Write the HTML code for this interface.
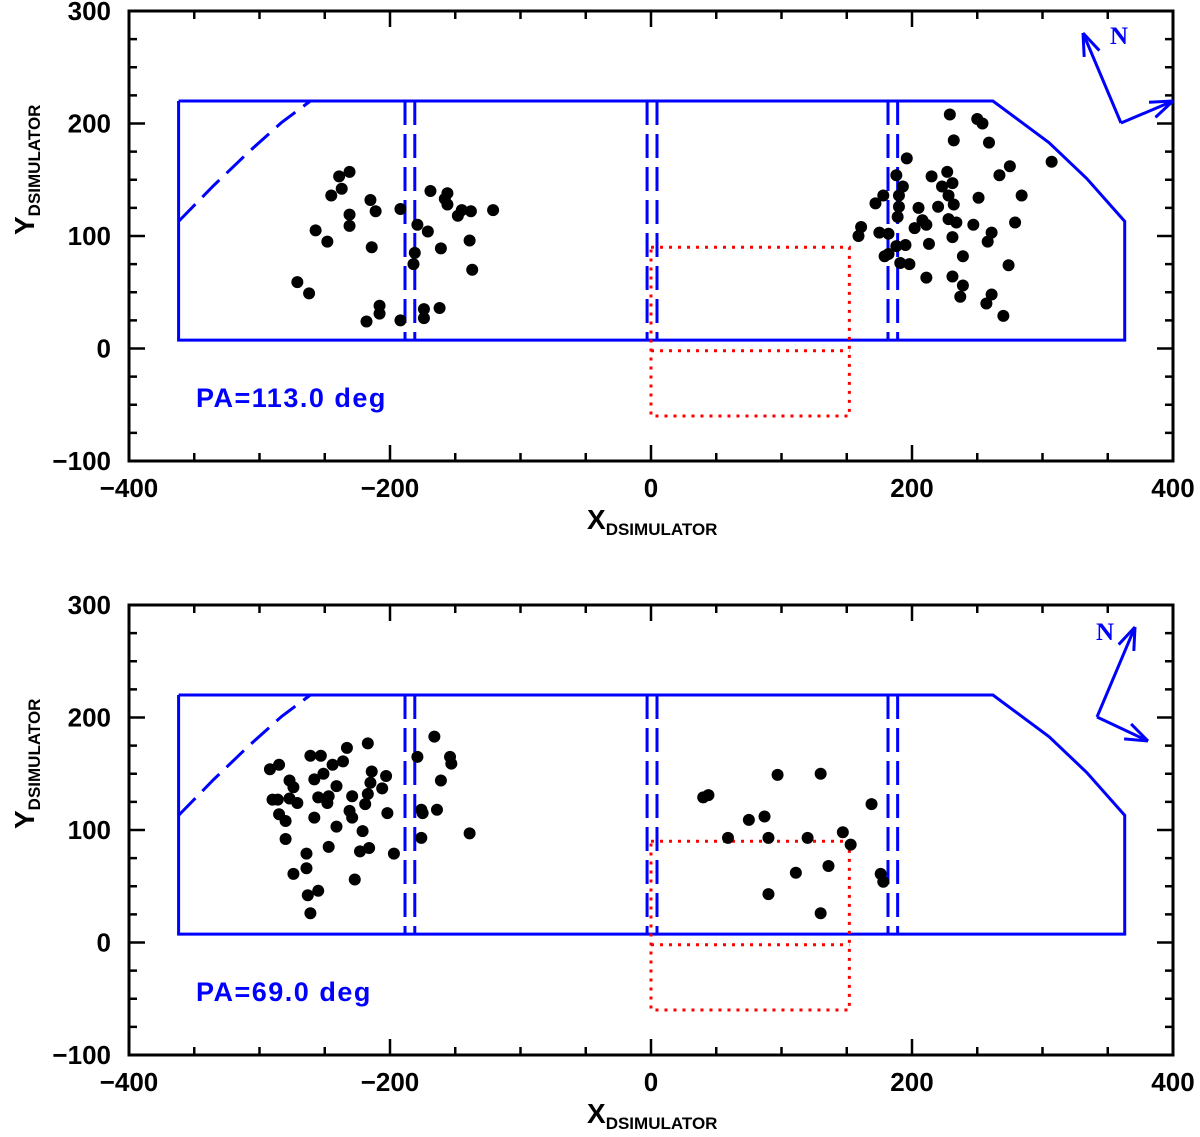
<!DOCTYPE html>
<html><head><meta charset="utf-8"><style>
body{margin:0;background:#fff;}
svg{display:block;font-family:"Liberation Sans",sans-serif;}
</style></head><body>
<svg id="chart" width="1200" height="1137" viewBox="0 0 1200 1137" xmlns="http://www.w3.org/2000/svg"></svg>
<script>
const xTicks=[-400,-200,0,200,400];
const yTicks=[-100,0,100,200,300];
const topPA="PA=113.0 deg";
const botPA="PA=69.0 deg";
const topX=[229,250,254,232,259,307,196,275,267,188,215,227,231,223,193,178,172,190,228,251,284,232,220,190,205,189,208,228,234,211,202,247,279,161,159,175,182,231,261,258,188,195,213,182,179,239,191,198,274,211,231,239,237,261,257,270,
-231,-239,-237,-245,-257,-248,-231,-231,-215,-211,-214,-271,-262,-208,-208,-218,-192,-174,-174,-162,-192,-179,-182,-169,-156,-158,-156,-148,-145,-138,-121,-171,-161,-139,-137,-181];
const topY=[208,204,200,185,183,166,169,162,154,154,153,157,147,144,144,136,129,136,136,134,136,128,126,126,125,117,114,115,112,110,107,110,112,108,100,103,102,99,103,95,91,92,93,84,82,82,76,75,74,63,64,56,46,48,40,29,
157,153,142,136,105,95,119,109,132,122,90,59,49,38,31,24,25,35,27,36,124,110,75,140,138,133,128,118,123,122,123,104,89,96,70,85];
const botX=[40,44,75,59,87,97,130,120,90,111,147,153,136,169,176,178,90,130,
-217,-233,-261,-253,-244,-236,-292,-285,-277,-274,-258,-251,-241,-214,-215,-203,-206,-217,-219,-229,-247,-248,-255,-290,-286,-277,-271,-285,-280,-258,-231,-229,-202,-241,-221,-280,-247,-223,-216,-197,-264,-264,-274,-227,-255,-263,-261,-179,-166,-154,-153,-161,-176,-175,-164,-176,-139];
const botY=[129,131,109,93,112,149,150,93,93,62,98,87,68,123,61,54,43,26,
177,173,166,166,158,161,154,158,144,138,145,150,139,152,142,148,137,132,123,130,130,124,129,127,127,128,124,114,108,111,117,111,115,103,99,92,85,81,84,79,79,66,61,56,46,42,26,165,183,165,159,144,118,115,118,93,97];
const slitX=[-362,262,305,334,363,363,-362,-362];
const slitY=[220,220,183,151,113,7.5,7.5,220];
const arcX=[-362,-335,-308,-283,-261];
const arcY=[113,145,175,201,220];
const slitLines=[-188.5,-181,-3,4.6,181.6,189];
const redX=[0,152];
const redY=[90,-2,-60];

const NS="http://www.w3.org/2000/svg";
const svg=document.getElementById('chart');
function el(t,a,p){const e=document.createElementNS(NS,t);for(const k in a)e.setAttribute(k,a[k]);(p||svg).appendChild(e);return e;}
const L=129,R=1173;
function sx(v){return L+(v+400)*(R-L)/800;}

function panel(top,name,X,Y,pa,compass){
  const B=top+450;
  const sy=v=>B-(v+100)*450/400;
  const g=el('g',{});
  
  
  let d=slitX.map((x,i)=>(i?'L':'M')+sx(x)+' '+sy(slitY[i])).join(' ');
  const s=el('path',{d:d,fill:'none',stroke:'#0000ff','stroke-width':3},g);
  
  
  d=arcX.map((x,i)=>(i?'L':'M')+sx(x)+' '+sy(arcY[i])).join(' ');
  const a=el('path',{d:d,fill:'none',stroke:'#0000ff','stroke-width':3,'stroke-dasharray':'24,10'},g);
  
  
  slitLines.forEach(x=>{
    const l=el('line',{x1:sx(x),x2:sx(x),y1:sy(220),y2:sy(7.5),stroke:'#0000ff','stroke-width':3,'stroke-dasharray':'24,9'},g);
    
    
  });
  d=`M${sx(redX[0])} ${sy(redY[0])} L${sx(redX[1])} ${sy(redY[0])} L${sx(redX[1])} ${sy(redY[2])} L${sx(redX[0])} ${sy(redY[2])} Z M${sx(redX[0])} ${sy(redY[1])} L${sx(redX[1])} ${sy(redY[1])}`;
  const r=el('path',{d:d,fill:'none',stroke:'#ff0000','stroke-width':3,'stroke-dasharray':'3,6'},g);
  
  
  X.forEach((x,i)=>{
    const c=el('circle',{cx:sx(x),cy:sy(Y[i]),r:6,fill:'#000'},g);
    
    
  });
  const f=el('rect',{x:L,y:top,width:R-L,height:450,fill:'none',stroke:'#000','stroke-width':3},g);
  
  
  for(let v=-400;v<=400;v+=50){const len=v%200===0?16:8;
    el('line',{x1:sx(v),x2:sx(v),y1:B,y2:B-len,stroke:'#000','stroke-width':2.5},g);
    el('line',{x1:sx(v),x2:sx(v),y1:top,y2:top+len,stroke:'#000','stroke-width':2.5},g);}
  for(let v=-100;v<=300;v+=25){const len=v%100===0?16:8;
    el('line',{x1:L,x2:L+len,y1:sy(v),y2:sy(v),stroke:'#000','stroke-width':2.5},g);
    el('line',{x1:R,x2:R-len,y1:sy(v),y2:sy(v),stroke:'#000','stroke-width':2.5},g);}
  xTicks.forEach(v=>{const t=el('text',{x:sx(v),y:B+36,'text-anchor':'middle','font-size':26,'font-weight':'bold'},g);t.textContent=(v<0?'\u2212'+(-v):v);
    });
  yTicks.forEach(v=>{const t=el('text',{x:111,y:sy(v)+9,'text-anchor':'end','font-size':26,'font-weight':'bold'},g);t.textContent=(v<0?'\u2212'+(-v):v);
    });
  const xt=el('text',{x:587,y:B+68,'font-size':28,'font-weight':'bold'},g);
  xt.innerHTML='X<tspan font-size="17" font-weight="bold" dy="6">DSIMULATOR</tspan>';
  
  const yt=el('text',{x:0,y:0,'font-size':28,'font-weight':'bold',transform:`translate(34,${top+224}) rotate(-90)`},g);
  yt.innerHTML='Y<tspan font-size="17" font-weight="bold" dy="6">DSIMULATOR</tspan>';
  
  const p=el('text',{x:196,y:top+396,'font-size':27,'font-weight':'bold',fill:'#0000ff','letter-spacing':'1.5'},g);
  p.textContent=pa;
  
  const cg=el('g',{stroke:'#0000ff','stroke-width':3,fill:'none'},g);
  
  const [ox,oy,nx,ny,ex,ey,lx,ly]=compass;
  el('line',{x1:ox,y1:oy,x2:nx,y2:ny},cg);el('line',{x1:ox,y1:oy,x2:ex,y2:ey},cg);
  function head(x1,y1,x2,y2){const an=Math.atan2(y2-y1,x2-x1);
    [0.35,-0.35].forEach(o=>el('line',{x1:x2,y1:y2,x2:x2-24*Math.cos(an+o),y2:y2-24*Math.sin(an+o)},cg));}
  head(ox,oy,nx,ny);head(ox,oy,ex,ey);
  const nt=el('text',{x:lx,y:ly,'font-size':25,'font-weight':'bold',fill:'#0000ff','font-family':'Liberation Serif, serif'},g);
  nt.textContent='N';
}
panel(11,'top-panel',topX,topY,topPA,[1121,123,1083,33,1173,101,1110,44]);
panel(605,'bottom-panel',botX,botY,botPA,[1097,717,1135,627,1148,741,1096,640]);
</script>
</body></html>
